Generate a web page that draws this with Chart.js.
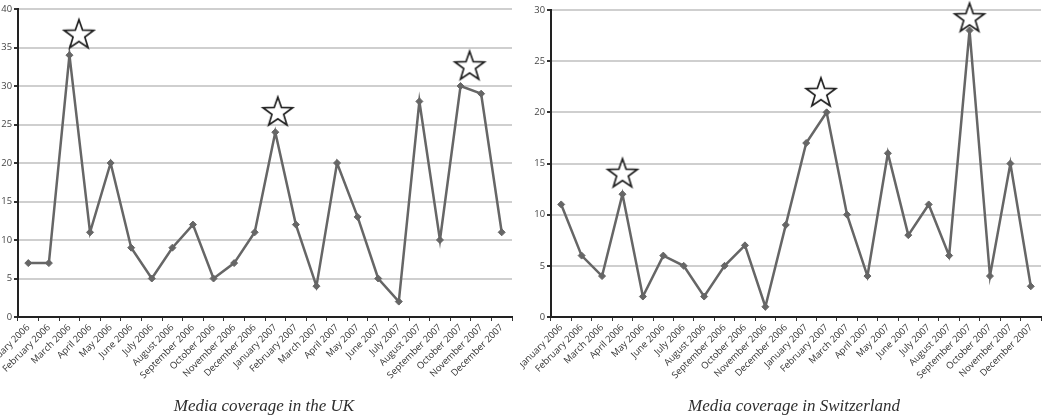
<!DOCTYPE html>
<html>
<head>
<meta charset="utf-8">
<script src="https://cdn.jsdelivr.net/npm/chart.js@4"></script>
<style>
  body { margin: 0; background: #fff; }
  canvas { position: absolute; top: 0; }
  #ukChart { left: 0; }
  #chChart { left: 520px; }
  .titulo {
    position: absolute;
    top: 396px;
    width: 400px;
    text-align: center;
    font-family: 'Liberation Serif', serif;
    font-style: italic;
    font-size: 17px;
    line-height: 20px;
    color: #2e2e2e;
  }
</style>
</head>
<body>
<canvas id="ukChart" width="520" height="416"></canvas>
<canvas id="chChart" width="529" height="416"></canvas>
<div class="titulo" id="tituloUK" style="left: 64px;"></div>
<div class="titulo" id="tituloCH" style="left: 594px;"></div>
<script>
// meses de las dos series
const meses = [
  "January 2006", "February 2006", "March 2006", "April 2006", "May 2006", "June 2006",
  "July 2006", "August 2006", "September 2006", "October 2006", "November 2006", "December 2006",
  "January 2007", "February 2007", "March 2007", "April 2007", "May 2007", "June 2007",
  "July 2007", "August 2007", "September 2007", "October 2007", "November 2007", "December 2007"
];

const valoresUK = [7, 7, 34, 11, 20, 9, 5, 9, 12, 5, 7, 11, 24, 12, 4, 20, 13, 5, 2, 28, 10, 30, 29, 11];
const valoresCH = [11, 6, 4, 12, 2, 6, 5, 2, 5, 7, 1, 9, 17, 20, 10, 4, 16, 8, 11, 6, 28, 4, 15, 3];

// estrellas (posicion en meses, valor)
const estrellasUKx = [2.46, 12.12, 21.44];
const estrellasUKy = [36.8, 26.75, 32.7];
const estrellasCHx = [3.0, 12.72, 20.0];
const estrellasCHy = [14.1, 22.0, 29.3];

const ticksUK = [0, 5, 10, 15, 20, 25, 30, 35, 40];
const ticksCH = [0, 5, 10, 15, 20, 25, 30];

const tituloUK = "Media coverage in the UK";
const tituloCH = "Media coverage in Switzerland";

// dibujo de la estrella como imagen de punto
const hacerEstrella = () => {
  const c = document.createElement("canvas");
  c.width = 36;
  c.height = 36;
  const ctx = c.getContext("2d");
  const R = 15.5;
  const r = R * 0.4;
  const cx = 18;
  const cy = 18 + 0.0955 * R;
  ctx.beginPath();
  for (let i = 0; i < 10; i++) {
    const rad = i % 2 === 0 ? R : r;
    const ang = -Math.PI / 2 + i * Math.PI / 5;
    const x = cx + rad * Math.cos(ang);
    const y = cy + rad * Math.sin(ang);
    if (i === 0) ctx.moveTo(x, y); else ctx.lineTo(x, y);
  }
  ctx.closePath();
  ctx.fillStyle = "#fff";
  ctx.fill();
  ctx.lineJoin = "miter";
  ctx.lineWidth = 1.7;
  ctx.strokeStyle = "#1e1e1e";
  ctx.stroke();
  return c;
};
const estrella = hacerEstrella();

const crearGrafico = (id, valores, estX, estY, yMax, yTicks, anchoY, padTop) => {
  const canvas = document.getElementById(id).getContext("2d");
  const puntosEstrella = estX.map((x, i) => ({ x: x, y: estY[i] }));

  return new Chart(canvas, {
    type: "line",
    data: {
      labels: meses,
      datasets: [
        {
          label: "estrellas",
          data: puntosEstrella,
          xAxisID: "xs",
          showLine: false,
          pointStyle: estrella,
          pointRadius: 16,
          clip: false,
          order: 0
        },
        {
          label: "cobertura",
          data: valores,
          borderColor: "#666",
          backgroundColor: "#666",
          borderWidth: 2.5,
          pointStyle: "rectRot",
          pointRadius: 3.5,
          pointBorderWidth: 1,
          tension: 0,
          clip: false,
          order: 1
        }
      ]
    },
    options: {
      responsive: false,
      animation: false,
      layout: { autoPadding: false, padding: { left: 0, right: 8, top: padTop, bottom: 20.4 } },
      plugins: {
        legend: { display: false },
        tooltip: { enabled: false }
      },
      scales: {
        x: {
          type: "category",
          offset: true,
          grid: { drawOnChartArea: false, drawTicks: true, tickLength: 4, tickColor: "#333", offset: true },
          border: { color: "#222", width: 2 },
          ticks: {
            autoSkip: false,
            minRotation: 45,
            maxRotation: 45,
            padding: 1,
            color: "#333",
            font: { family: "'Open Sans', sans-serif", size: 9.4 }
          },
          afterFit: (scale) => {
            scale.height = 78.6;
            scale.paddingLeft = 0;
            scale.paddingRight = 0;
          }
        },
        xs: {
          type: "linear",
          display: false,
          min: -0.5,
          max: 23.5
        },
        y: {
          min: 0,
          max: yMax,
          afterBuildTicks: (scale) => {
            scale.ticks = yTicks.map(v => ({ value: v }));
          },
          grid: { color: "#cfcfcf", lineWidth: 2, tickLength: 4, tickColor: "#333" },
          border: { color: "#222", width: 2 },
          ticks: {
            padding: 2,
            color: "#444",
            font: { family: "'Open Sans', sans-serif", size: 9.4 }
          },
          afterFit: (scale) => {
            scale.width = anchoY;
            scale.paddingTop = 0;
            scale.paddingBottom = 0;
          }
        }
      }
    }
  });
};

crearGrafico("ukChart", valoresUK, estrellasUKx, estrellasUKy, 40, ticksUK, 18, 9);
crearGrafico("chChart", valoresCH, estrellasCHx, estrellasCHy, 30, ticksCH, 31, 10);

document.getElementById("tituloUK").textContent = tituloUK;
document.getElementById("tituloCH").textContent = tituloCH;
</script>
</body>
</html>
